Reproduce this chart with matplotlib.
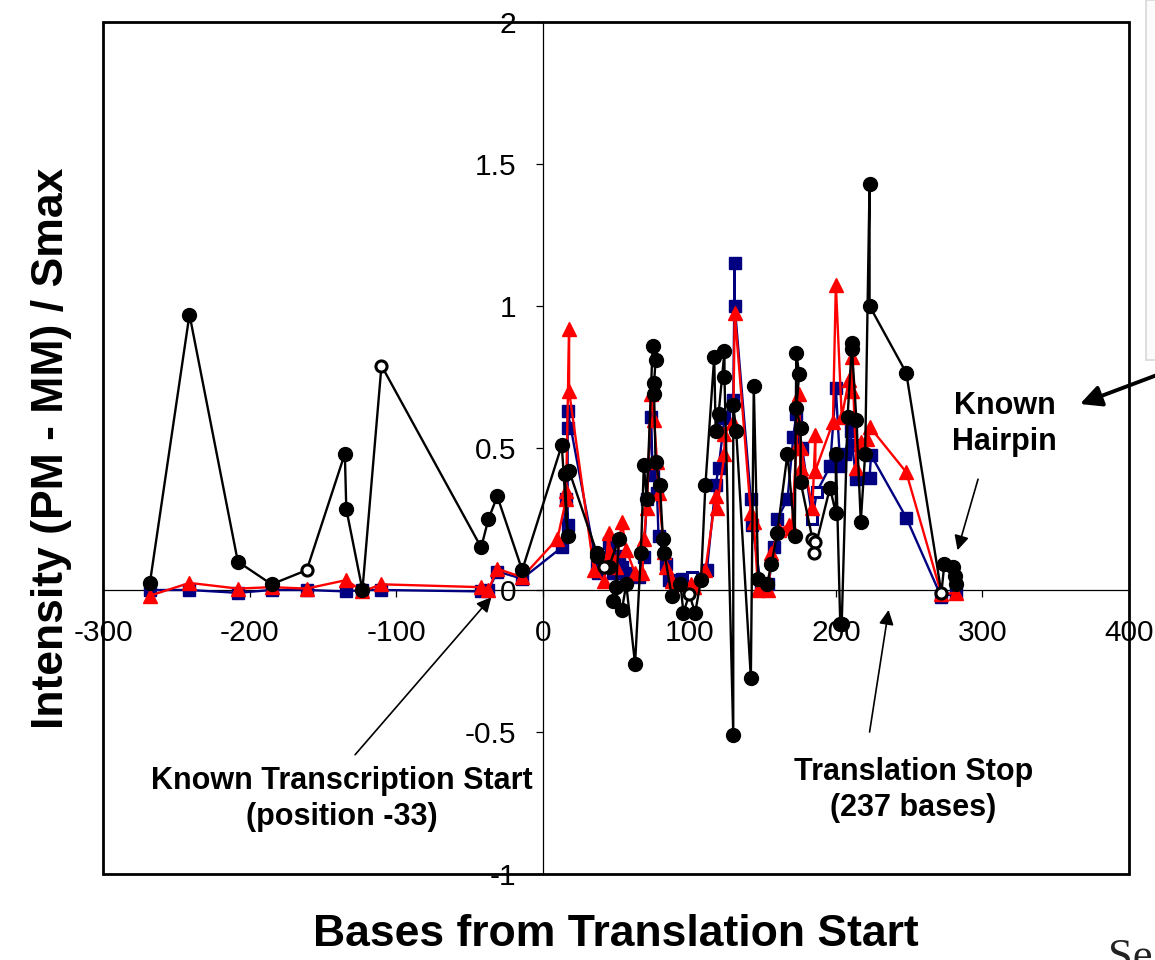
"""
Probe intensity profile along the transcript, relative to the translation start.
"""

import matplotlib as mpl

mpl.use("Agg")

import matplotlib.pyplot as plt
import numpy as np
from matplotlib.patches import Rectangle

plt.rcParams["font.family"] = ["Liberation Sans", "DejaVu Sans"]

# black trace (filled circles, some hollow)
black_x = [-268, -241, -208, -185, -161, -135, -134, -123, -110, -42, -37, -31, -14,
           13, 17, 15, 18, 37, 37, 42, 45, 52, 50, 48, 54, 57, 63, 67, 69, 71,
           75, 77, 76, 76, 77, 80, 82, 83, 88, 94, 96, 100, 104, 108,
           111, 117, 118, 120, 124, 124, 130, 130, 132, 142, 144, 147, 153, 156, 160,
           167, 172, 173, 175, 173, 176, 176, 184, 186, 185,
           196, 200, 200, 203, 204, 208, 211, 211, 214, 217, 220, 223, 223, 248,
           272, 274, 280, 281, 282]
black_y = [0.025, 0.97, 0.10, 0.02, 0.07, 0.48, 0.285, 0.0, 0.79, 0.15, 0.25, 0.33, 0.07,
           0.51, 0.19, 0.41, 0.42, 0.13, 0.12, 0.08, 0.08, 0.18, 0.01, -0.04, -0.07, 0.02, -0.26, 0.13, 0.44, 0.32,
           0.86, 0.81, 0.73, 0.69, 0.45, 0.37, 0.18, 0.13, -0.02, 0.02, -0.08, -0.015, -0.08, 0.035,
           0.37, 0.82, 0.56, 0.62, 0.84, 0.75, -0.51, 0.65, 0.56, -0.31, 0.72, 0.04, 0.02, 0.09, 0.20,
           0.48, 0.19, 0.835, 0.76, 0.64, 0.57, 0.38, 0.18, 0.17, 0.13,
           0.36, 0.27, 0.48, -0.12, -0.12, 0.61, 0.87, 0.85, 0.60, 0.24, 0.48, 1.43, 1.00, 0.765,
           -0.01, 0.09, 0.08, 0.05, 0.02]
black_hollow = [4, 8, 19, 41, 66, 67, 68, 83]

# red trace (triangles)
red_x = [-268, -241, -208, -185, -161, -134, -123, -110, -42, -37, -31, -14,
         10, 16, 16, 18, 18, 35, 42, 45, 46, 50, 54, 57, 63, 68, 69,
         71, 74, 76, 78, 79, 83, 84, 88, 95, 101, 103, 111, 118, 119, 124,
         124, 130, 131, 142, 144, 147, 154, 156, 161, 168, 170, 173, 175, 176, 176,
         184, 186, 186, 198, 200, 204, 209, 211, 211, 214, 217, 221, 223, 248, 272, 282]
red_y = [-0.02, 0.025, 0.005, 0.01, 0.005, 0.035, -0.005, 0.02, 0.01, 0.0, 0.075, 0.045,
         0.18, 0.32, 0.35, 0.92, 0.70, 0.07, 0.03, 0.20, 0.13, 0.08, 0.24, 0.14, 0.06, 0.06, 0.18,
         0.29, 0.69, 0.60, 0.45, 0.34, 0.135, 0.08, 0.03, 0.02, 0.02, 0.01, 0.07, 0.33, 0.29, 0.48,
         0.55, 0.59, 0.975, 0.27, 0.24, 0.0, 0.0, 0.13, 0.21, 0.23, 0.22, 0.50, 0.69, 0.43, 0.50,
         0.29, 0.545, 0.42, 0.59, 1.075, 0.61, 0.74, 0.70, 0.82, 0.43, 0.52, 0.53, 0.575, 0.415, -0.015, -0.01]

# navy trace (squares, some hollow)
navy_x = [-268, -241, -208, -185, -161, -134, -123, -110, -42, -37, -31, -14,
          13, 16, 17, 17, 17, 37, 38, 45, 48, 52, 54, 57, 66, 69, 71,
          74, 75, 78, 79, 84, 86, 95, 102, 112, 118, 120, 124, 130, 131, 131,
          142, 143, 149, 154, 158, 160, 167, 171, 173, 177, 184, 187,
          196, 200, 203, 206, 210, 211, 214, 223, 224, 248, 272, 282]
navy_y = [0.0, 0.0, -0.01, 0.0, 0.0, -0.005, 0.0, 0.0, -0.005, 0.0, 0.065, 0.04,
          0.15, 0.32, 0.23, 0.57, 0.63, 0.08, 0.06, 0.165, 0.06, 0.12, 0.08, 0.06, 0.045, 0.115, 0.32,
          0.61, 0.405, 0.34, 0.19, 0.09, 0.035, 0.04, 0.045, 0.07, 0.37, 0.43, 0.605, 0.67, 1.15, 1.0,
          0.32, 0.23, 0.01, 0.02, 0.15, 0.25, 0.32, 0.54, 0.62, 0.50, 0.25, 0.345,
          0.435, 0.71, 0.435, 0.48, 0.56, 0.51, 0.39, 0.395, 0.475, 0.255, -0.025, -0.01]
navy_hollow = [34, 52, 53]

x_ticks = [-300, -200, -100, 0, 100, 200, 300, 400]
y_ticks = [-1, -0.5, 0, 0.5, 1, 1.5, 2]
x_tick_labels = ["-300", "-200", "-100", "0", "100", "200", "300", "400"]
y_tick_labels = ["-1", "-0.5", "0", "0.5", "1", "1.5", "2"]

NAVY = "#000080"
RED = "#ff0000"


def draw_trace(ax, xs, ys, color, marker, size, hollow=(), zorder=2):
    xs = np.asarray(xs, dtype=float)
    ys = np.asarray(ys, dtype=float)
    ax.plot(xs, ys, color=color, lw=1.7, zorder=zorder, clip_on=False)
    mask = np.zeros(len(xs), dtype=bool)
    mask[list(hollow)] = True
    ax.plot(xs[~mask], ys[~mask], ls="none", marker=marker, ms=size,
            mfc=color, mec=color, zorder=zorder + 0.1, clip_on=False)
    if mask.any():
        ax.plot(xs[mask], ys[mask], ls="none", marker=marker, ms=size * 0.8,
                mfc="white", mec=color, mew=2.2, zorder=zorder + 0.1, clip_on=False)


fig = plt.figure(figsize=(11.55, 9.6), dpi=100)
ax = fig.add_axes([103 / 1155, 1 - 874 / 960, (1129 - 103) / 1155, (874 - 22) / 960])

draw_trace(ax, navy_x, navy_y, NAVY, "s", 8.5, navy_hollow, zorder=3)
draw_trace(ax, red_x, red_y, RED, "^", 10, zorder=4)
draw_trace(ax, black_x, black_y, "black", "o", 10, black_hollow, zorder=5)

ax.set_xlim(-300, 400)
ax.set_ylim(-1, 2)

# axes cross at the origin, plot area keeps its own border
for side in ("top", "right"):
    ax.spines[side].set_visible(False)
ax.spines["left"].set_position(("data", 0))
ax.spines["bottom"].set_position(("data", 0))
ax.spines["left"].set_linewidth(0.9)
ax.spines["bottom"].set_linewidth(0.9)
ax.add_patch(Rectangle((0, 0), 1, 1, transform=ax.transAxes, fill=False,
                       lw=2.0, ec="black", clip_on=False, zorder=6))

ax.set_xticks(x_ticks)
ax.set_xticklabels(x_tick_labels)
ax.set_yticks(y_ticks)
ax.set_yticklabels(y_tick_labels)
ax.tick_params(axis="x", direction="out", length=5, width=0.9, pad=16, labelsize=21.5)
ax.tick_params(axis="y", direction="out", length=5, width=0.9, pad=14, labelsize=21.5)

bold = dict(fontsize=22, fontweight="bold", ha="center", va="center", linespacing=1.25)
arrow = dict(arrowstyle="-|>", color="black", lw=1.2, mutation_scale=22, shrinkA=0, shrinkB=0)

ax.text(-137, -0.735, "Known Transcription Start\n(position -33)", **bold)
ax.annotate("", xy=(-35, -0.025), xytext=(-128, -0.58), arrowprops=arrow)
ax.text(253, -0.705, "Translation Stop\n(237 bases)", **bold)
ax.annotate("", xy=(236, -0.07), xytext=(223, -0.50), arrowprops=arrow)
ax.text(315, 0.585, "Known\nHairpin", **bold)
ax.annotate("", xy=(283, 0.14), xytext=(297, 0.39), arrowprops=arrow)

fig.text(52 / 1155, 1 - 448 / 960, "Intensity (PM - MM) / Smax", rotation=90,
         fontsize=32, fontweight="bold", ha="center", va="center")
fig.text(616 / 1155, 1 - 935 / 960, "Bases from Translation Start",
         fontsize=32, fontweight="bold", ha="center", va="center")

# neighbouring panel edge, its pointer and a stray caption fragment
fig.add_artist(Rectangle((1146 / 1155, 1 - 360 / 960), 0.05, 360 / 960,
                         transform=fig.transFigure, fc="#fbfbfb", ec="#d8d8d8", lw=1.2))
ax.annotate("", xy=(1080, 960 - 404), xytext=(1165, 960 - 372),
            xycoords="figure pixels", textcoords="figure pixels",
            arrowprops=dict(arrowstyle="-|>", color="black", lw=2.8, mutation_scale=32,
                            shrinkA=0, shrinkB=0),
            annotation_clip=False)
fig.text(1108 / 1155, 1 - 938 / 960, "Se", family=["Liberation Serif", "DejaVu Serif"],
         fontsize=32, ha="left", va="top", color="#222222")

fig.savefig("out.png", dpi=100)
plt.close(fig)
